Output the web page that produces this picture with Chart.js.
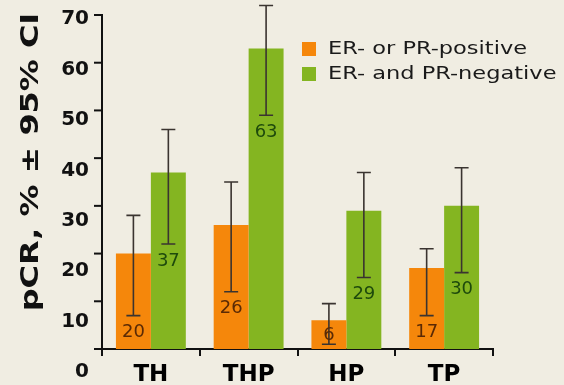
<!DOCTYPE html>
<html>
<head>
<meta charset="utf-8">
<script src="https://cdn.jsdelivr.net/npm/chart.js@4/dist/chart.umd.min.js"></script>
<style>
    html, body { margin: 0; padding: 0; background: #f0ede2; }
    #wrap { width: 564px; height: 385px; position: relative; }
</style>
</head>
<body>
<div id="wrap"><canvas id="pcrChart" width="564" height="385"></canvas></div>
<script>
// pCR by regimen and hormone receptor status

const categories = ['TH', 'THP', 'HP', 'TP'];
const seriesNames = ['ER- or PR-positive', 'ER- and PR-negative'];

const posValues = [20, 26, 6, 17];
const posLow = [7, 12, 1, 7];
const posHigh = [28, 35, 9.5, 21];

const negValues = [37, 63, 29, 30];
const negLow = [22, 49, 15, 16];
const negHigh = [46, 72, 37, 38];

const yTicks = [0, 10, 20, 30, 40, 50, 60, 70];

const ORANGE = '#f5870b';
const GREEN = '#84b521';
const FONT = '"DejaVu Sans", Verdana, sans-serif';

// Error bars + value labels drawn from the bar elements
const errorBarPlugin = {
    id: 'errorBars',
    afterDatasetsDraw(chart) {
        const ctx = chart.ctx;
        const y = chart.scales.y;
        const bottom = chart.chartArea.bottom;
        const ranges = [[posLow, posHigh], [negLow, negHigh]];
        const labelColors = ['#5a2a05', '#1e4a0c'];

        chart.data.datasets.forEach((ds, di) => {
            const meta = chart.getDatasetMeta(di);
            meta.data.forEach((bar, i) => {
                const lo = y.getPixelForValue(ranges[di][0][i]);
                const hi = y.getPixelForValue(ranges[di][1][i]);
                ctx.save();
                ctx.strokeStyle = '#3a3430';
                ctx.lineWidth = 1.6;
                ctx.beginPath();
                ctx.moveTo(bar.x, lo);
                ctx.lineTo(bar.x, hi);
                ctx.moveTo(bar.x - 7, lo);
                ctx.lineTo(bar.x + 7, lo);
                ctx.moveTo(bar.x - 7, hi);
                ctx.lineTo(bar.x + 7, hi);
                ctx.stroke();

                // value label just under the lower whisker
                ctx.fillStyle = labelColors[di];
                ctx.font = '18px ' + FONT;
                ctx.textAlign = 'center';
                ctx.textBaseline = 'middle';
                const ly = Math.min(lo + 17, bottom - 14);
                ctx.fillText(String(ds.data[i]), bar.x, ly);
                ctx.restore();
            });
        });
    },
    afterDraw(chart) {
        const ctx = chart.ctx;
        const y = chart.scales.y;
        const top = chart.chartArea.top;
        const left = chart.chartArea.left;

        // y tick marks and labels (the original's labels sit on a slightly wider pitch)
        ctx.save();
        ctx.strokeStyle = '#111';
        ctx.lineWidth = 2;
        ctx.font = 'bold 20px ' + FONT;
        ctx.fillStyle = '#111';
        ctx.textAlign = 'right';
        ctx.textBaseline = 'middle';
        yTicks.forEach(v => {
            const ty = y.getPixelForValue(v);
            ctx.beginPath();
            ctx.moveTo(left - 8, ty);
            ctx.lineTo(left, ty);
            ctx.stroke();
            const py = top + 4 + (ty - top) * 1.057;
            ctx.fillText(String(v), 89, py);
        });
        ctx.restore();

        // Legend in the top right corner
        ctx.save();
        ctx.font = '18px ' + FONT;
        ctx.textAlign = 'left';
        ctx.textBaseline = 'middle';
        chart.data.datasets.forEach((ds, di) => {
            const boxTop = 42 + di * 25;
            ctx.fillStyle = ds.backgroundColor;
            ctx.fillRect(302, boxTop, 14, 14);
            ctx.fillStyle = '#1a1a1a';
            ctx.save();
            ctx.translate(328, boxTop + 7);
            ctx.scale(1.25, 1);
            ctx.fillText(ds.label, 0, 0);
            ctx.restore();
        });
        ctx.restore();

        // Axis title
        ctx.save();
        ctx.translate(32, 162);
        ctx.rotate(-Math.PI / 2);
        ctx.scale(1.33, 1);
        ctx.font = 'bold 24px ' + FONT;
        ctx.textAlign = 'center';
        ctx.textBaseline = 'middle';
        ctx.fillStyle = '#111';
        ctx.fillText('pCR, % \u00b1 95% CI', 0, 0);
        ctx.restore();
    },
};

new Chart(document.getElementById('pcrChart'), {
    type: 'bar',
    data: {
        labels: categories,
        datasets: [
            {
                label: seriesNames[0],
                data: posValues,
                backgroundColor: ORANGE,
            },
            {
                label: seriesNames[1],
                data: negValues,
                backgroundColor: GREEN,
            },
        ],
    },
    plugins: [errorBarPlugin],
    options: {
        responsive: false,
        animation: false,
        layout: {
            padding: { left: 0, right: 71, top: 15, bottom: 0 },
        },
        datasets: {
            bar: {
                categoryPercentage: 0.715,
                barPercentage: 1.0,
            },
        },
        plugins: {
            legend: { display: false },
            tooltip: { enabled: false },
        },
        scales: {
            x: {
                afterFit(scale) { scale.height = 36; },
                grid: {
                    offset: true,
                    drawOnChartArea: false,
                    color: '#111',
                    lineWidth: 2,
                    tickLength: 7,
                },
                border: { color: '#111', width: 2 },
                ticks: {
                    color: '#000',
                    padding: 5,
                    font: { family: FONT, size: 23, weight: 'bold' },
                },
            },
            y: {
                min: 0,
                max: 70,
                afterFit(scale) { scale.width = 102; },
                afterBuildTicks(scale) {
                    scale.ticks = yTicks.map(v => ({ value: v }));
                },
                grid: { display: false },
                border: { color: '#111', width: 2 },
                ticks: { display: false },
            },
        },
    },
});
</script>
</body>
</html>
